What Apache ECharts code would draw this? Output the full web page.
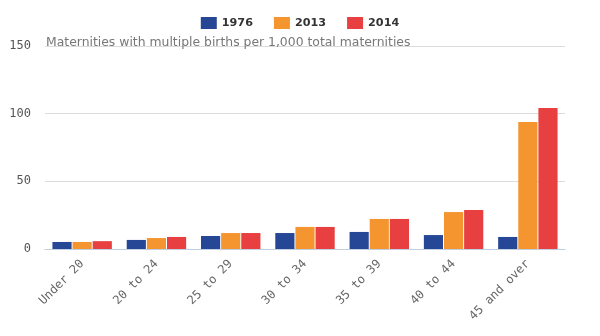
<!DOCTYPE html>
<html>
<head>
<meta charset="utf-8">
<script src="https://cdn.jsdelivr.net/npm/echarts@6/dist/echarts.min.js"></script>
<style>
  html, body { margin: 0; padding: 0; background: #fff; }
  #chart { width: 600px; height: 336px; }
</style>
</head>
<body>
<div id="chart"></div>
<script>
// Age bands of the mother
const categories = ['Under 20', '20 to 24', '25 to 29', '30 to 34', '35 to 39', '40 to 44', '45 and over'];

// Maternities with multiple births per 1,000 total maternities
const values1976 = [5.2, 6.7, 9.6, 11.8, 12.6, 10.3, 8.9];
const values2013 = [5.2, 8.1, 11.8, 16.3, 22.2, 27.3, 93.9];
const values2014 = [5.8, 8.9, 11.8, 16.3, 22.2, 28.8, 104.2];

const seriesNames = ['1976', '2013', '2014'];
const seriesColors = ['#264796', '#f5952f', '#e84040'];

const chart = echarts.init(document.getElementById('chart'), null, { renderer: 'canvas' });

const mkBar = (name, data, color) => ({
  name: name,
  type: 'bar',
  data: data,
  barGap: '5%',
  barCategoryGap: '20%',
  itemStyle: { color: color },
  emphasis: { disabled: true }
});

chart.setOption({
  animation: false,
  title: {
    text: 'Maternities with multiple births per 1,000 total maternities',
    left: 41,
    top: 32,
    textStyle: {
      fontFamily: 'DejaVu Sans',
      fontSize: 12.4,
      fontWeight: 'normal',
      color: '#777'
    }
  },
  legend: {
    top: 12,
    left: 'center',
    itemWidth: 16,
    itemHeight: 12,
    itemGap: 21,
    icon: 'rect',
    textStyle: {
      fontFamily: 'DejaVu Sans',
      fontSize: 11.2,
      fontWeight: 'bold',
      color: '#333'
    },
    data: seriesNames
  },
  grid: { left: 45, right: 35, top: 46, bottom: 87 },
  xAxis: {
    type: 'category',
    data: categories,
    offset: 1,
    axisLine: { lineStyle: { color: '#c0d0e0', width: 1 } },
    axisTick: { length: 9, lineStyle: { color: '#c0d0e0' } },
    axisLabel: {
      rotate: 45,
      margin: 12,
      fontFamily: 'DejaVu Sans Mono',
      fontSize: 12,
      color: '#666'
    }
  },
  yAxis: {
    type: 'value',
    min: 0,
    max: 150,
    interval: 50,
    axisLine: { show: false },
    axisTick: { show: false },
    axisLabel: {
      margin: 14,
      padding: [3, 0, 0, 0],
      fontFamily: 'DejaVu Sans Mono',
      fontSize: 12,
      color: '#555'
    },
    splitLine: {
      lineStyle: { color: ['#888', '#dcdcdc', '#dcdcdc', '#dcdcdc'], width: 1 }
    }
  },
  series: [
    mkBar(seriesNames[0], values1976, seriesColors[0]),
    mkBar(seriesNames[1], values2013, seriesColors[1]),
    mkBar(seriesNames[2], values2014, seriesColors[2])
  ]
});
</script>
</body>
</html>
